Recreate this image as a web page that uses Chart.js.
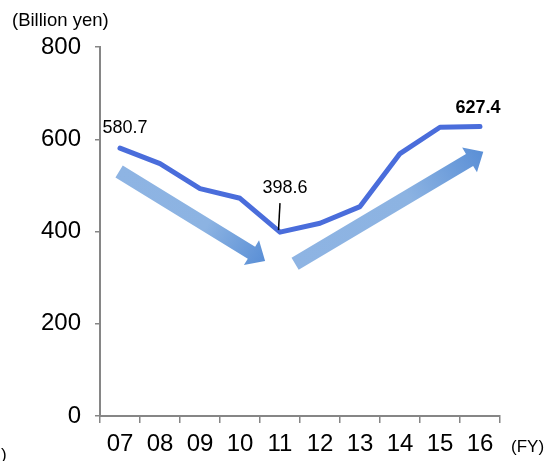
<!DOCTYPE html>
<html>
<head>
<meta charset="utf-8">
<script src="https://cdn.jsdelivr.net/npm/chart.js@4/dist/chart.umd.min.js"></script>
<style>
  html, body { margin: 0; padding: 0; background: #ffffff; }
  #wrap { position: relative; width: 555px; height: 461px; }
</style>
</head>
<body>
<div id="wrap"><canvas id="c" width="555" height="461"></canvas></div>
<script>
// Fiscal years and sales (billion yen)
const categories = ['07', '08', '09', '10', '11', '12', '13', '14', '15', '16'];
const sales = [580.7, 547, 493, 472, 398.6, 418, 454, 569, 626, 627.4];
const yTicks = [0, 200, 400, 600, 800];
const unitLabel = '(Billion yen)';
const fyLabel = '(FY)';
// indices of points whose values are printed
const labelledPoints = [0, 4, 9];

const AXIS = '#868686';
const LINE = '#4a6ddb';
const FONT = "'Liberation Sans', Arial, sans-serif";

// Two wide trend arrows (down, then up), placed in data units
const trendArrows = {
  id: 'trendArrows',
  beforeDatasetsDraw(chart) {
    const { ctx, scales: { x, y } } = chart;
    const step = x.getPixelForValue(1) - x.getPixelForValue(0);
    const px = (i) => x.getPixelForValue(0) + i * step - 2.5;
    const arrows = [
      [0.04, 530, 3.69, 336],
      [4.44, 330, 9.145, 573]
    ];
    arrows.forEach(([i0, v0, i1, v1]) => {
      const sx = px(i0), sy = y.getPixelForValue(v0);
      const ex = px(i1), ey = y.getPixelForValue(v1);
      const dx = ex - sx, dy = ey - sy;
      const len = Math.hypot(dx, dy);
      const ux = dx / len, uy = dy / len;
      const nx = -uy, ny = ux;
      const shaft = 7, head = 14.5, headLen = 16;
      const bx = ex - ux * headLen, by = ey - uy * headLen;
      const g = ctx.createLinearGradient(sx, sy, ex, ey);
      g.addColorStop(0, '#8eb4e3');
      g.addColorStop(0.6, '#8cb3e2');
      g.addColorStop(1, '#5a8fd6');
      ctx.save();
      ctx.fillStyle = g;
      ctx.beginPath();
      ctx.moveTo(sx + nx * shaft, sy + ny * shaft);
      ctx.lineTo(bx + nx * shaft, by + ny * shaft);
      ctx.lineTo(bx + nx * head, by + ny * head);
      ctx.lineTo(ex, ey);
      ctx.lineTo(bx - nx * head, by - ny * head);
      ctx.lineTo(bx - nx * shaft, by - ny * shaft);
      ctx.lineTo(sx - nx * shaft, sy - ny * shaft);
      ctx.closePath();
      ctx.fill();
      ctx.restore();
    });
  }
};

// Value labels, leader line and free texts
const valueLabels = {
  id: 'valueLabels',
  afterDatasetsDraw(chart) {
    const { ctx } = chart;
    const meta = chart.getDatasetMeta(0);
    ctx.save();
    ctx.fillStyle = '#000';
    ctx.textAlign = 'center';
    ctx.textBaseline = 'middle';
    labelledPoints.forEach((idx) => {
      const p = meta.data[idx];
      const txt = sales[idx].toFixed(1);
      if (idx === 0) {
        ctx.font = '18px ' + FONT;
        ctx.fillText(txt, p.x + 5, p.y - 20);
      } else if (idx === labelledPoints[labelledPoints.length - 1]) {
        ctx.font = 'bold 18px ' + FONT;
        ctx.fillText(txt, p.x - 2, p.y - 19);
      } else {
        ctx.font = '18px ' + FONT;
        ctx.fillText(txt, p.x + 5, p.y - 44);
        ctx.strokeStyle = '#000';
        ctx.lineWidth = 1.5;
        ctx.beginPath();
        ctx.moveTo(p.x, p.y - 29);
        ctx.lineTo(p.x - 1.5, p.y - 2);
        ctx.stroke();
      }
    });
    ctx.textAlign = 'left';
    ctx.font = '18.5px ' + FONT;
    ctx.fillText(unitLabel, 12, 21);
    ctx.font = '17px ' + FONT;
    ctx.fillText(fyLabel, 511, 447);
    ctx.fillText(')', 1, 455);
    ctx.restore();
  }
};

new Chart(document.getElementById('c'), {
  type: 'line',
  data: {
    labels: categories,
    datasets: [{
      data: sales,
      borderColor: LINE,
      borderWidth: 5,
      borderCapStyle: 'round',
      borderJoinStyle: 'round',
      pointRadius: 0,
      tension: 0,
      fill: false
    }]
  },
  options: {
    responsive: false,
    animation: false,
    events: [],
    layout: { padding: { top: 47, right: 55, bottom: 0, left: 0 } },
    plugins: { legend: { display: false }, tooltip: { enabled: false } },
    scales: {
      x: {
        type: 'category',
        offset: true,
        grid: { offset: true, drawOnChartArea: false, drawTicks: true, tickLength: 7, color: AXIS, lineWidth: 1.5 },
        border: { color: AXIS, width: 2 },
        ticks: { color: '#000', font: { family: FONT, size: 24 }, padding: 7, maxRotation: 0, autoSkip: false },
        afterFit(scale) { scale.height = 45; }
      },
      y: {
        min: 0,
        max: 800,
        afterBuildTicks(scale) { scale.ticks = yTicks.map(v => ({ value: v })); },
        grid: { drawOnChartArea: false, drawTicks: true, tickLength: 5, color: AXIS, lineWidth: 1.5 },
        border: { color: AXIS, width: 2 },
        ticks: { color: '#000', font: { family: FONT, size: 24 }, padding: 14 },
        afterFit(scale) { scale.width = 100; }
      }
    }
  },
  plugins: [trendArrows, valueLabels]
});
</script>
</body>
</html>
